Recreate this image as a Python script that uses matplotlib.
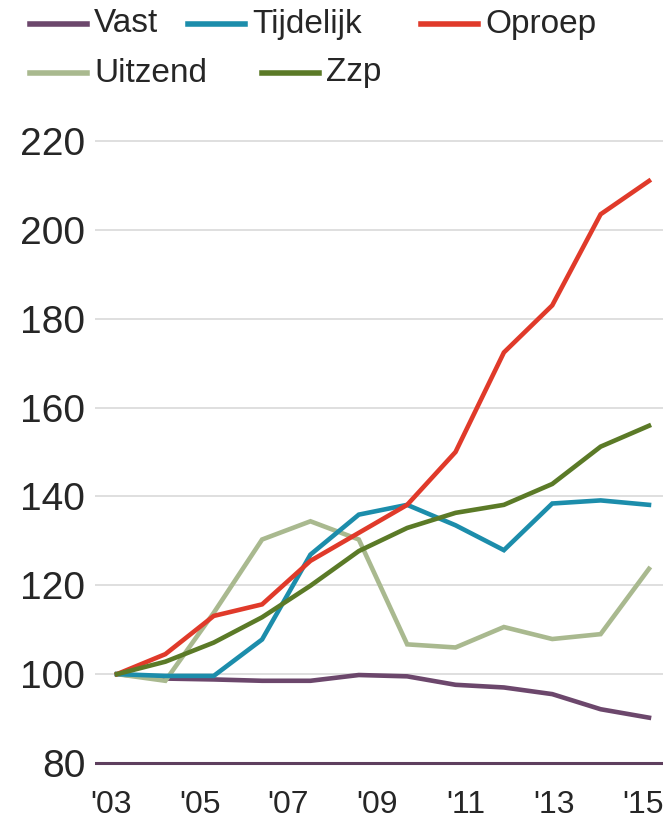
import matplotlib
matplotlib.use('Agg')
import matplotlib.pyplot as plt
import matplotlib.transforms as mtransforms
from matplotlib.lines import Line2D
import numpy as np

plt.rcParams['font.family'] = ['Liberation Sans', 'DejaVu Sans']

# 12 data points per series, spread evenly over '03 - '15
vast = [100, 99.0, 98.8, 98.5, 98.5, 99.8, 99.5, 97.6, 97.0, 95.5, 92.1, 90.2]
tijdelijk = [100, 99.6, 99.6, 107.8, 126.9, 135.9, 138.1, 133.5, 127.9, 138.4, 139.1, 138.1]
oproep = [100, 104.5, 113.1, 115.7, 125.5, 131.8, 138.1, 150.0, 172.4, 183.0, 203.5, 211.0]
uitzend = [100, 98.5, 113.8, 130.3, 134.4, 130.3, 106.7, 106.0, 110.6, 107.9, 109.0, 123.7]
zzp = [100, 102.8, 107.1, 112.8, 119.9, 127.7, 132.9, 136.3, 138.1, 142.8, 151.2, 155.9]

year_labels = ["'03", "'05", "'07", "'09", "'11", "'13", "'15"]
y_ticks = [80, 100, 120, 140, 160, 180, 200, 220]

series = [
    ('Vast', vast, '#6c476c'),
    ('Tijdelijk', tijdelijk, '#1c8dab'),
    ('Oproep', oproep, '#e03a2a'),
    ('Uitzend', uitzend, '#a9b98f'),
    ('Zzp', zzp, '#5b7a27'),
]
draw_order = ['Vast', 'Uitzend', 'Tijdelijk', 'Oproep', 'Zzp']

fig = plt.figure(figsize=(6.63, 8.25), dpi=100)
ax = fig.add_axes([0.1433, 0.0644, 0.8567, 0.7755])

x = np.arange(len(vast))
lookup = {name: (vals, col) for name, vals, col in series}
for z, name in enumerate(draw_order):
    vals, col = lookup[name]
    ax.plot(x, vals, color=col, lw=3.3, solid_joinstyle='miter', zorder=3 + z)

ax.axhline(80, color='#5e3f5e', lw=2.2, zorder=2)

ax.set_xlim(-0.455, 11.29)
ax.set_ylim(78, 222)
ax.set_yticks(y_ticks)
ax.set_xticks(np.linspace(0, 11, len(year_labels)))
ax.set_xticklabels(year_labels)

ax.yaxis.grid(True, color='#dcdcdc', lw=1.3, zorder=0)
ax.set_axisbelow(True)
for s in ax.spines.values():
    s.set_visible(False)
ax.tick_params(axis='y', length=0, pad=7, labelsize=28, labelcolor='#262626')
ax.tick_params(axis='x', length=0, pad=13, labelsize=23, labelcolor='#262626')

# nudge year labels a bit left, like the original
shift = mtransforms.ScaledTranslation(-6 / 100, 0, fig.dpi_scale_trans)
for lbl in ax.get_xticklabels():
    lbl.set_transform(lbl.get_transform() + shift)

# legend drawn by hand in two rows
W, H = 663.0, 825.0
legend_pos = [
    ('Vast', 30, 24), ('Tijdelijk', 188, 24), ('Oproep', 421, 24),
    ('Uitzend', 30, 73), ('Zzp', 262, 73),
]
for name, px, py in legend_pos:
    col = lookup[name][1]
    fig.add_artist(Line2D([px / W, (px + 57) / W], [1 - py / H, 1 - py / H],
                          color=col, lw=4, transform=fig.transFigure))
    fig.text((px + 64) / W, 1 - py / H, name, fontsize=24, color='#262626',
             va='center', ha='left')

fig.savefig('out.png', dpi=100)
